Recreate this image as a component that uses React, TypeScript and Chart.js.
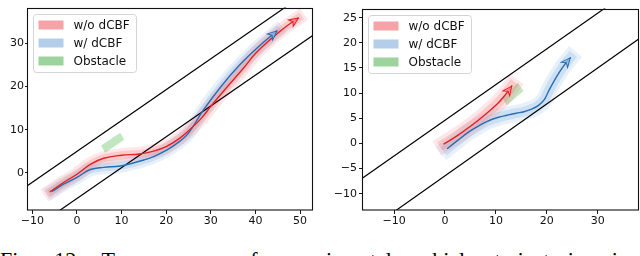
import React, { useEffect, useRef } from "react";
import { Chart, registerables } from "chart.js";

Chart.register(...registerables);

// ---------- shared ----------
const legendLabels = ["w/o dCBF", "w/ dCBF", "Obstacle"];
const legendFills = ["#f6a3a8", "#b4cee9", "#9dd49d"];
const captionText = "Fig. 12: Two groups of experimental vehicle trajectories in";

// ---------- left panel ----------
const leftXTicks = [-10, 0, 10, 20, 30, 40, 50];
const leftYTicks = [0, 10, 20, 30];
const leftRedX = [-6.0, -3.0, 0.0, 3.0, 6.0, 10.0, 14.0, 17.0, 20.0, 23.0, 25.5, 28.0, 30.0, 33.6, 37.3, 40.0, 43.5, 46.8, 49.6];
const leftRedY = [-4.3, -2.2, -0.3, 2.0, 3.4, 4.1, 4.4, 5.0, 6.1, 8.0, 10.2, 12.8, 15.4, 19.8, 24.2, 27.6, 31.0, 33.8, 35.8];
const leftBlueX = [-5.5, -3.0, 0.0, 3.0, 6.0, 9.7, 12.6, 15.0, 17.0, 20.0, 23.0, 25.0, 28.3, 32.3, 36.5, 40.5, 44.8];
const leftBlueY = [-4.2, -2.6, -1.0, 0.8, 1.3, 1.6, 2.3, 3.0, 3.7, 5.2, 7.3, 9.2, 14.5, 20.0, 25.0, 29.0, 32.8];
const leftObstacleX = [5.4, 6.3, 10.6, 9.7, 5.4];
const leftObstacleY = [6.35, 4.7, 7.7, 9.3, 6.35];
const leftRoadUpperX = [-20, 60];
const leftRoadUpperY = [-9.26, 47.8];
const leftRoadLowerX = [-20, 60];
const leftRoadLowerY = [-20.16, 36.9];

// ---------- right panel ----------
const rightXTicks = [-10, 0, 10, 20, 30];
const rightYTicks = [-10, -5, 0, 5, 10, 15, 20, 25];
const rightRedX = [-0.2, 2.5, 5.0, 7.5, 10.3, 11.8, 13.1];
const rightRedY = [-0.1, 1.6, 3.4, 5.4, 7.9, 9.6, 11.4];
const rightBlueX = [0.5, 2.5, 4.4, 6.5, 8.3, 10.5, 12.2, 14.0, 15.5, 17.0, 18.3, 19.5, 20.3, 21.3, 22.5, 23.6, 24.6];
const rightBlueY = [-1.0, 0.6, 2.1, 3.4, 4.4, 5.2, 5.6, 6.0, 6.3, 6.8, 7.5, 8.7, 10.3, 12.2, 14.2, 15.8, 17.0];
const rightObstacleX = [11.25, 12.1, 15.4, 14.3, 11.25];
const rightObstacleY = [9.17, 7.56, 10.4, 12.06, 9.17];
const rightRoadUpperX = [-20, 40];
const rightRoadUpperY = [-9.6, 33.0];
const rightRoadLowerX = [-20, 40];
const rightRoadLowerY = [-20.75, 22.15];

const pts = (xs: number[], ys: number[]) => xs.map((x, i) => ({ x, y: ys[i] }));
const fmt = (v: number) => (v < 0 ? "\u2212" + Math.abs(v) : String(v));

type PanelCfg = {
  xMin: number; xMax: number; yMin: number; yMax: number;
  xTicks: number[]; yTicks: number[];
  redX: number[]; redY: number[]; blueX: number[]; blueY: number[];
  obsX: number[]; obsY: number[];
  upX: number[]; upY: number[]; loX: number[]; loY: number[];
  yAxisWidth: number; padRight: number; yTickLen: number; yTickPad: number;
  outerBand: number; innerBand: number;
  blueArrow: boolean;
};

const frameAndLegend = {
  id: "frameAndLegend",
  afterDatasetsDraw(chart: any) {
    const ctx = chart.ctx;
    chart.data.datasets.forEach((ds: any, i: number) => {
      if (!ds.arrowColor) return;
      const meta = chart.getDatasetMeta(i);
      const n = meta.data.length;
      const a = meta.data[n - 2];
      const b = meta.data[n - 1];
      const ang = Math.atan2(b.y - a.y, b.x - a.x);
      const L = ds.arrowSize, W = ds.arrowSize * 0.45;
      ctx.save();
      ctx.translate(b.x, b.y);
      ctx.rotate(ang);
      ctx.beginPath();
      ctx.moveTo(0, 0);
      ctx.lineTo(-L, -W);
      ctx.lineTo(-L * 0.7, 0);
      ctx.lineTo(-L, W);
      ctx.closePath();
      ctx.fillStyle = ds.arrowFill;
      ctx.fill();
      ctx.strokeStyle = ds.arrowColor;
      ctx.lineWidth = 1;
      ctx.stroke();
      ctx.restore();
    });
  },
  afterDraw(chart: any) {
    const ctx = chart.ctx;
    const a = chart.chartArea;
    ctx.save();
    ctx.strokeStyle = "#111";
    ctx.lineWidth = 1.1;
    ctx.strokeRect(Math.round(a.left) - 0.5, Math.round(a.top) + 0.5, Math.round(a.right - a.left) + 1, Math.round(a.bottom - a.top) - 0.5);
    const bx = Math.round(a.left) + 5.5, by = Math.round(a.top) + 6.5, bw = 103, bh = 58, r = 3;
    ctx.lineWidth = 1;
    ctx.beginPath();
    ctx.moveTo(bx + r, by);
    ctx.lineTo(bx + bw - r, by);
    ctx.quadraticCurveTo(bx + bw, by, bx + bw, by + r);
    ctx.lineTo(bx + bw, by + bh - r);
    ctx.quadraticCurveTo(bx + bw, by + bh, bx + bw - r, by + bh);
    ctx.lineTo(bx + r, by + bh);
    ctx.quadraticCurveTo(bx, by + bh, bx, by + bh - r);
    ctx.lineTo(bx, by + r);
    ctx.quadraticCurveTo(bx, by, bx + r, by);
    ctx.closePath();
    ctx.fillStyle = "rgba(255,255,255,0.85)";
    ctx.fill();
    ctx.strokeStyle = "#d4d4d4";
    ctx.stroke();
    ctx.font = "12px 'DejaVu Sans'";
    ctx.textBaseline = "middle";
    ctx.textAlign = "left";
    legendLabels.forEach((lab, i) => {
      const cy = by + 10.5 + 18 * i;
      ctx.fillStyle = legendFills[i];
      ctx.fillRect(bx + 5, cy - 4.5, 25, 9);
      ctx.fillStyle = "#111";
      ctx.fillText(lab, bx + 40, cy + 0.5);
    });
    ctx.restore();
  },
};

function makeConfig(p: PanelCfg): any {
  const tickFont = { family: "'DejaVu Sans'", size: 11 };
  const trajectory = (xs: number[], ys: number[], color: string, width: number, order: number, extra: any = {}) => ({
    data: pts(xs, ys), showLine: true, borderColor: color, borderWidth: width,
    pointRadius: 0, tension: 0.4, clip: 0, order, borderCapStyle: "round", ...extra,
  });
  return {
    type: "scatter",
    data: {
      datasets: [
        trajectory(p.redX, p.redY, "rgb(228,32,36)", 1.4, 1, { arrowColor: "rgb(228,32,36)", arrowFill: "rgba(250,150,150,0.8)", arrowSize: 9 }),
        trajectory(p.blueX, p.blueY, "rgb(40,110,180)", 1.4, 2, p.blueArrow ? { arrowColor: "rgb(40,110,180)", arrowFill: "rgba(150,190,230,0.8)", arrowSize: 9 } : {}),
        { data: pts(p.upX, p.upY), showLine: true, borderColor: "#000", borderWidth: 1.2, pointRadius: 0, tension: 0, clip: 0, order: 3 },
        { data: pts(p.loX, p.loY), showLine: true, borderColor: "#000", borderWidth: 1.2, pointRadius: 0, tension: 0, clip: 0, order: 3 },
        trajectory(p.redX, p.redY, "rgba(240,100,105,0.22)", p.innerBand, 4, { borderCapStyle: "square" }),
        trajectory(p.redX, p.redY, "rgba(245,120,125,0.18)", p.outerBand, 5, { borderCapStyle: "square" }),
        trajectory(p.blueX, p.blueY, "rgba(110,160,215,0.22)", p.innerBand, 6, { borderCapStyle: "square" }),
        trajectory(p.blueX, p.blueY, "rgba(130,175,225,0.18)", p.outerBand, 7, { borderCapStyle: "square" }),
        { data: pts(p.obsX, p.obsY), showLine: true, borderWidth: 0, borderColor: "rgba(0,0,0,0)", backgroundColor: "rgba(120,200,120,0.45)", fill: "shape", pointRadius: 0, tension: 0, clip: 0, order: 8 },
      ],
    },
    options: {
      animation: false,
      responsive: false,
      devicePixelRatio: 1,
      layout: { padding: { left: 0, top: 1, right: p.padRight, bottom: 0 } },
      plugins: { legend: { display: false }, tooltip: { enabled: false } },
      events: [],
      scales: {
        x: {
          type: "linear", min: p.xMin, max: p.xMax,
          afterBuildTicks: (s: any) => { s.ticks = p.xTicks.map((v) => ({ value: v })); },
          afterFit: (s: any) => { s.height = 22; },
          grid: { display: true, drawOnChartArea: false, drawTicks: true, tickLength: 4, color: "#1a1a1a" },
          border: { display: false },
          ticks: { font: tickFont, color: "#111", padding: 1, maxRotation: 0, autoSkip: false, callback: (v: number) => fmt(v) },
        },
        y: {
          type: "linear", min: p.yMin, max: p.yMax,
          afterBuildTicks: (s: any) => { s.ticks = p.yTicks.map((v) => ({ value: v })); },
          afterFit: (s: any) => { s.width = p.yAxisWidth; },
          grid: { display: true, drawOnChartArea: false, drawTicks: true, tickLength: p.yTickLen, color: "#1a1a1a" },
          border: { display: false },
          ticks: { font: tickFont, color: "#111", padding: p.yTickPad, autoSkip: false, callback: (v: number) => fmt(v) },
        },
      },
    },
    plugins: [frameAndLegend],
  };
}

const leftPanel: PanelCfg = {
  xMin: -10.97, xMax: 52.68, yMin: -8.56, yMax: 38.23,
  xTicks: leftXTicks, yTicks: leftYTicks,
  redX: leftRedX, redY: leftRedY, blueX: leftBlueX, blueY: leftBlueY,
  obsX: leftObstacleX, obsY: leftObstacleY,
  upX: leftRoadUpperX, upY: leftRoadUpperY, loX: leftRoadLowerX, loY: leftRoadLowerY,
  yAxisWidth: 28, padRight: 8, yTickLen: 3, yTickPad: 1,
  outerBand: 14, innerBand: 8, blueArrow: true,
};

const rightPanel: PanelCfg = {
  xMin: -16.1, xMax: 37.9, yMin: -13.24, yMax: 26.8,
  xTicks: rightXTicks, yTicks: rightYTicks,
  redX: rightRedX, redY: rightRedY, blueX: rightBlueX, blueY: rightBlueY,
  obsX: rightObstacleX, obsY: rightObstacleY,
  upX: rightRoadUpperX, upY: rightRoadUpperY, loX: rightRoadLowerX, loY: rightRoadLowerY,
  yAxisWidth: 43, padRight: 2, yTickLen: 4, yTickPad: 2,
  outerBand: 17, innerBand: 10, blueArrow: true,
};

function Panel({ cfg, left }: { cfg: PanelCfg; left: number }) {
  const ref = useRef<HTMLCanvasElement | null>(null);
  useEffect(() => {
    if (!ref.current) return;
    const chart = new Chart(ref.current, makeConfig(cfg));
    return () => chart.destroy();
  }, [cfg]);
  return (
    <canvas
      ref={ref}
      width={320}
      height={232}
      style={{ position: "absolute", left, top: 0, width: 320, height: 232 }}
    />
  );
}

export default function App() {
  return (
    <div style={{ position: "absolute", left: 0, top: 0, width: 640, height: 256, overflow: "hidden", background: "#fff" }}>
      <Panel cfg={leftPanel} left={0} />
      <Panel cfg={rightPanel} left={320} />
      <div
        style={{
          position: "absolute", left: 0, top: 249, whiteSpace: "nowrap",
          fontFamily: "'Liberation Serif', 'Times New Roman', serif", fontSize: 22,
          lineHeight: "22px", wordSpacing: 14, color: "#000",
        }}
      >
        {captionText}
      </div>
    </div>
  );
}
